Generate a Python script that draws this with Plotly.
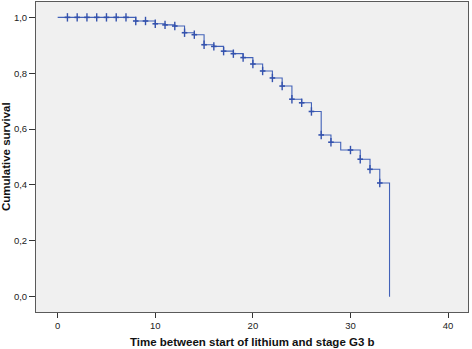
import plotly.graph_objects as go

# Kaplan-Meier step data
event_times = [0, 8, 10, 11, 12, 13, 14, 15, 16, 17, 18, 19, 20, 21, 22, 23, 24, 25,
               26, 27, 28, 29, 31, 32, 33, 34]
survival = [1.0, 0.987, 0.977, 0.973, 0.969, 0.945, 0.938, 0.902, 0.896, 0.879, 0.870,
            0.856, 0.833, 0.808, 0.783, 0.754, 0.707, 0.694, 0.663, 0.579, 0.553, 0.525,
            0.492, 0.456, 0.407, 0.0]
censor_times = [1, 2, 3, 4, 5, 6, 7, 8, 9, 10, 11, 12, 13, 14, 15, 16, 17, 18, 19, 20,
                21, 22, 23, 24, 25, 26, 27, 28, 30, 31, 32, 33]

x_ticks = [0, 10, 20, 30, 40]
y_ticks = [0.0, 0.2, 0.4, 0.6, 0.8, 1.0]

x_title = "Time between start of lithium and stage G3 b"
y_title = "Cumulative survival"


def surv_at(t):
    s = survival[0]
    for et, sv in zip(event_times, survival):
        if et <= t:
            s = sv
    return s


censor_levels = [surv_at(t) for t in censor_times]

blue = "#4262b8"
mark_blue = "#3452ad"
font_fam = "Liberation Sans, Arial"

fig = go.Figure()
fig.add_trace(go.Scatter(x=event_times, y=survival, mode="lines",
                         line=dict(shape="hv", color=blue, width=1.1),
                         hoverinfo="skip", showlegend=False))
fig.add_trace(go.Scatter(x=censor_times, y=censor_levels, mode="markers",
                         marker=dict(symbol="line-ns", size=6,
                                     line=dict(color=mark_blue, width=1.4), color=mark_blue),
                         showlegend=False))
fig.add_trace(go.Scatter(x=censor_times, y=censor_levels, mode="markers",
                         marker=dict(symbol="line-ew", size=4,
                                     line=dict(color=mark_blue, width=1.6), color=mark_blue),
                         hoverinfo="skip", showlegend=False))

axis_common = dict(showgrid=False, zeroline=False, showline=True, linecolor="#5a5a5a",
                   linewidth=1, mirror=True, ticks="outside", tickcolor="#333333",
                   automargin=False,
                   tickfont=dict(family=font_fam, size=9.5, color="#222222"))

fig.update_layout(
    width=472, height=349,
    margin=dict(l=36, r=4, t=2, b=37),
    paper_bgcolor="white", plot_bgcolor="#f0f0f0",
    separators=", ",
    xaxis=dict(range=[-2.22, 42.04], tickvals=x_ticks, ticklen=5, **axis_common),
    yaxis=dict(range=[-0.055, 1.055], tickvals=y_ticks, tickformat=".1f", ticklen=6,
               **axis_common),
    annotations=[
        dict(text="<b>" + x_title + "</b>", xref="paper", yref="paper", x=0.5, y=0,
             xanchor="center", yanchor="middle", yshift=-30, showarrow=False,
             font=dict(family=font_fam, size=11.5, color="#111111")),
        dict(text="<b>" + y_title + "</b>", xref="paper", yref="paper", x=0, y=0.5,
             xanchor="center", yanchor="middle", xshift=-30, textangle=-90,
             showarrow=False, font=dict(family=font_fam, size=11.5, color="#111111")),
    ],
)

fig.write_html("out.html", config={"displayModeBar": False},
               post_script="document.body.style.margin='0';document.body.style.overflow='hidden';")
